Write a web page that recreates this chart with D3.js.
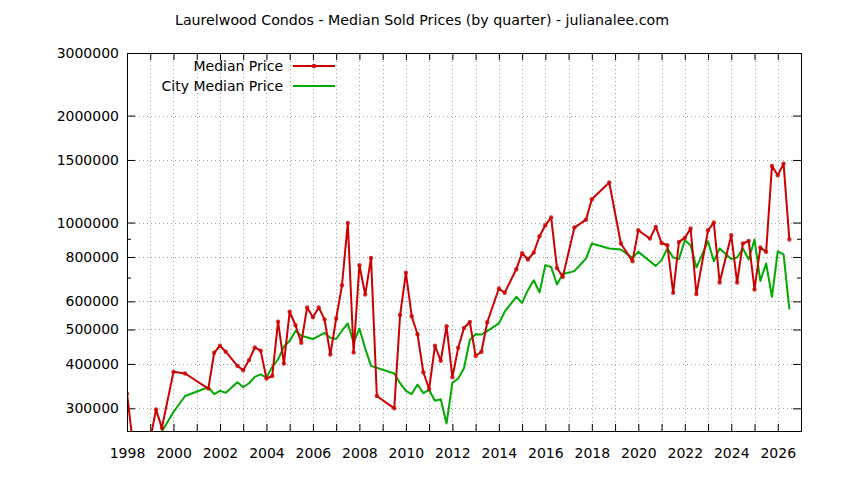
<!DOCTYPE html>
<html>
<head>
<meta charset="utf-8">
<script src="https://cdn.jsdelivr.net/npm/d3@7"></script>
<style>
	body { margin: 0; background: #fff; }
	svg text { font-family: "DejaVu Sans", sans-serif; font-size: 14px; fill: #000; }
</style>
</head>
<body>
<div id="chart"></div>
<script>
'use strict';

// - Laurelwood condos, median sold price per quarter (decimal year)
var condoQuarters = [
	1998.0, 1998.25, 1998.5, 1998.75, 1999.0, 1999.25, 1999.5, 2000.0, 2000.5, 2001.5,
	2001.75, 2002.0, 2002.25, 2002.75, 2003.0, 2003.25, 2003.5, 2003.75, 2004.0, 2004.25,
	2004.5, 2004.75, 2005.0, 2005.25, 2005.5, 2005.75, 2006.0, 2006.25, 2006.5, 2006.75,
	2007.0, 2007.25, 2007.5, 2007.75, 2008.0, 2008.25, 2008.5, 2008.75, 2009.5, 2009.75,
	2010.0, 2010.25, 2010.5, 2010.75, 2011.0, 2011.25, 2011.5, 2011.75, 2012.0, 2012.25,
	2012.5, 2012.75, 2013.0, 2013.25, 2013.5, 2014.0, 2014.25, 2014.75, 2015.0, 2015.25,
	2015.5, 2015.75, 2016.0, 2016.25, 2016.5, 2016.75, 2017.25, 2017.75, 2018.0, 2018.75,
	2019.25, 2019.75, 2020.0, 2020.5, 2020.75, 2021.0, 2021.25, 2021.5, 2021.75, 2022.0,
	2022.25, 2022.5, 2023.0, 2023.25, 2023.5, 2024.0, 2024.25, 2024.5, 2024.75, 2025.0,
	2025.25, 2025.5, 2025.75, 2026.0, 2026.25, 2026.5
];
var condoPrices = [
	330000, 240000, 230000, 235000, 245000, 298000, 264000, 380000, 376000, 341000,
	430000, 450000, 433000, 395000, 384000, 410000, 445000, 436000, 364000, 370000,
	526000, 401000, 561000, 514000, 459000, 577000, 541000, 577000, 534000, 425000,
	537000, 666000, 997000, 431000, 758000, 627000, 795000, 325000, 300000, 549000,
	722000, 545000, 485000, 379000, 340000, 450000, 408000, 511000, 367000, 444000,
	505000, 525000, 421000, 433000, 524000, 652000, 634000, 739000, 820000, 787000,
	823000, 915000, 983000, 1033000, 745000, 703000, 968000, 1019000, 1163000, 1296000,
	873000, 778000, 951000, 901000, 972000, 876000, 863000, 634000, 882000, 905000,
	962000, 629000, 951000, 1000000, 678000, 921000, 678000, 873000, 888000, 648000,
	851000, 827000, 1443000, 1358000, 1465000, 896000
];

// - city-wide median for the same quarters
var cityQuarters = [
	1999.25, 1999.5, 2000.0, 2000.5, 2001.5, 2001.75, 2002.0, 2002.25, 2002.75, 2003.0,
	2003.25, 2003.5, 2003.75, 2004.0, 2004.25, 2004.5, 2004.75, 2005.0, 2005.25, 2005.5,
	2006.0, 2006.5, 2006.75, 2007.0, 2007.25, 2007.5, 2007.75, 2008.0, 2008.25, 2008.5,
	2009.5, 2009.75, 2010.0, 2010.25, 2010.5, 2010.75, 2011.0, 2011.25, 2011.5, 2011.75,
	2012.0, 2012.25, 2012.5, 2012.75, 2013.0, 2013.25, 2013.5, 2014.0, 2014.25, 2014.75,
	2015.0, 2015.25, 2015.5, 2015.75, 2016.0, 2016.25, 2016.5, 2016.75, 2017.25, 2017.75,
	2018.0, 2018.75, 2019.25, 2019.75, 2020.0, 2020.75, 2021.0, 2021.25, 2021.5, 2021.75,
	2022.0, 2022.25, 2022.5, 2023.0, 2023.25, 2023.5, 2024.0, 2024.25, 2024.5, 2024.75,
	2025.0, 2025.25, 2025.5, 2025.75, 2026.0, 2026.25, 2026.5
];
var cityPrices = [
	255000, 258000, 293000, 325000, 344000, 329000, 336000, 332000, 355000, 344000,
	353000, 368000, 374000, 366000, 393000, 412000, 447000, 465000, 495000, 480000,
	470000, 489000, 474000, 470000, 496000, 520000, 459000, 503000, 442000, 395000,
	376000, 353000, 336000, 329000, 350000, 331000, 338000, 315000, 318000, 272000,
	354000, 364000, 389000, 467000, 485000, 484000, 495000, 520000, 561000, 618000,
	594000, 645000, 688000, 636000, 759000, 750000, 669000, 716000, 730000, 792000,
	873000, 845000, 840000, 795000, 827000, 755000, 784000, 845000, 797000, 789000,
	892000, 863000, 747000, 886000, 778000, 845000, 789000, 797000, 845000, 787000,
	896000, 685000, 767000, 618000, 830000, 813000, 570000
];

// - axis ticks
var yTickValues = [300000, 400000, 500000, 600000, 800000, 1000000, 1500000, 2000000, 3000000];
var yMinorTicks = [700000, 900000];
var xYears = d3.range(1998, 2028);

var seriesNames = ['Median Price', 'City Median Price'];

var chart = {

	width: 844,
	height: 480,
	margin: { top: 53, right: 43, bottom: 49, left: 127 },

	red: '#cc0000',
	green: '#00aa00',

	draw: function()
	{
		let m = chart.margin;
		let w = chart.width - m.left - m.right;
		let h = chart.height - m.top - m.bottom;

		const svg = d3.select('#chart').append('svg')
			.attr('width', chart.width)
			.attr('height', chart.height);

		let x = d3.scaleLinear().domain([1998, 2027]).range([0, w]);
		let y = d3.scaleLog().domain([259000, 3000000]).range([h, 0]);

		svg.append('text')
			.attr('x', 422)
			.attr('y', 25)
			.attr('text-anchor', 'middle')
			.style('font-size', '14.2px')
			.text('Laurelwood Condos - Median Sold Prices (by quarter) - julianalee.com');

		const g = svg.append('g').attr('transform', `translate(${m.left},${m.top})`);

		g.append('clipPath').attr('id', 'plotclip')
			.append('rect').attr('width', w).attr('height', h);

		// - dotted grid
		const grid = g.append('g')
			.attr('stroke', '#a0a0a0')
			.attr('stroke-width', 1)
			.attr('stroke-dasharray', '1,3');

		grid.selectAll('line.gx')
			.data(xYears.slice(1, -1))
			.join('line')
				.attr('class', 'gx')
				.attr('x1', d => Math.round(x(d)) + 0.5).attr('x2', d => Math.round(x(d)) + 0.5)
				.attr('y1', 0).attr('y2', h);

		grid.selectAll('line.gy')
			.data(yTickValues)
			.join('line')
				.attr('class', 'gy')
				.attr('x1', 0).attr('x2', w)
				.attr('y1', d => Math.round(y(d)) + 0.5).attr('y2', d => Math.round(y(d)) + 0.5);

		// - axes (ticks inward, mirrored)
		let xAxis = d3.axisBottom(x).tickValues(xYears)
			.tickFormat(d => d % 2 == 0 ? d : '')
			.tickSizeInner(-7).tickSizeOuter(0).tickPadding(17);
		let xTop = d3.axisTop(x).tickValues(xYears)
			.tickFormat('').tickSizeInner(-7).tickSizeOuter(0);
		let yAxis = d3.axisLeft(y).tickValues(yTickValues)
			.tickFormat(d3.format('d'))
			.tickSizeInner(-8).tickSizeOuter(0).tickPadding(8);
		let yRight = d3.axisRight(y).tickValues(yTickValues)
			.tickFormat('').tickSizeInner(-8).tickSizeOuter(0);
		let yMinL = d3.axisLeft(y).tickValues(yMinorTicks).tickFormat('').tickSizeInner(-4).tickSizeOuter(0);
		let yMinR = d3.axisRight(y).tickValues(yMinorTicks).tickFormat('').tickSizeInner(-4).tickSizeOuter(0);

		g.append('g').attr('class', 'axis').attr('transform', `translate(0,${h})`).call(xAxis);
		g.append('g').attr('class', 'axis').call(xTop);
		g.append('g').attr('class', 'axis').call(yAxis);
		g.append('g').attr('class', 'axis').attr('transform', `translate(${w},0)`).call(yRight);
		g.append('g').attr('class', 'axis').call(yMinL);
		g.append('g').attr('class', 'axis').attr('transform', `translate(${w},0)`).call(yMinR);

		g.selectAll('.axis path').remove();
		g.selectAll('.axis line').attr('stroke', '#000').attr('stroke-width', 1);
		g.selectAll('.axis text')
			.attr('font-family', '"DejaVu Sans", sans-serif')
			.attr('font-size', 14)
			.attr('fill', '#000');

		// - series
		let condo = condoQuarters.map((q, i) => [q, condoPrices[i]]);
		let city = cityQuarters.map((q, i) => [q, cityPrices[i]]);
		let line = d3.line().x(d => x(d[0])).y(d => y(d[1]));

		const plot = g.append('g').attr('clip-path', 'url(#plotclip)');

		plot.append('path')
			.datum(city)
			.attr('fill', 'none')
			.attr('stroke', chart.green)
			.attr('stroke-width', 2)
			.attr('stroke-linejoin', 'round')
			.attr('d', line);

		plot.append('path')
			.datum(condo)
			.attr('fill', 'none')
			.attr('stroke', chart.red)
			.attr('stroke-width', 2)
			.attr('stroke-linejoin', 'round')
			.attr('d', line);

		plot.selectAll('circle.pt')
			.data(condo)
			.join('circle')
				.attr('class', 'pt')
				.attr('cx', d => x(d[0]))
				.attr('cy', d => y(d[1]))
				.attr('r', 2.2)
				.attr('fill', chart.red)
				.attr('opacity', 0.8);

		// - frame
		g.append('rect')
			.attr('x', 0.5).attr('y', 0.5)
			.attr('width', w).attr('height', h)
			.attr('fill', 'none')
			.attr('stroke', '#000')
			.attr('stroke-width', 1);

		// - legend
		const legend = svg.append('g');
		seriesNames.forEach((name, i) =>
		{
			let ly = 66 + i * 20;
			legend.append('text')
				.attr('x', 283).attr('y', ly + 5)
				.attr('text-anchor', 'end')
				.text(name);
			legend.append('line')
				.attr('x1', 293).attr('x2', 335)
				.attr('y1', ly).attr('y2', ly)
				.attr('stroke', i == 0 ? chart.red : chart.green)
				.attr('stroke-width', 2);
			if (i == 0)
				legend.append('circle')
					.attr('cx', 314).attr('cy', ly).attr('r', 2.2)
					.attr('fill', chart.red);
		});
	},
};

chart.draw();
</script>
</body>
</html>
